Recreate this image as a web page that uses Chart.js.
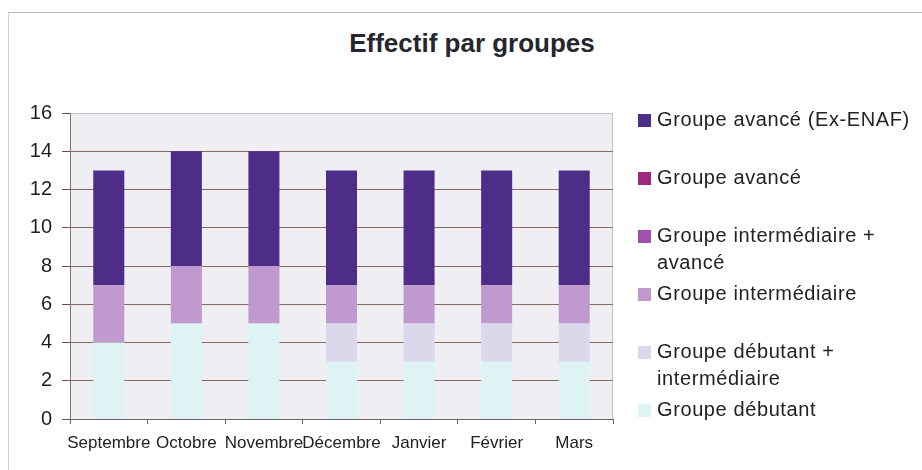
<!DOCTYPE html>
<html lang="fr">
<head>
<meta charset="utf-8">
<title>Effectif par groupes</title>
<script src="https://cdn.jsdelivr.net/npm/chart.js@4.4.1/dist/chart.umd.min.js"></script>
<style>
  html, body { margin: 0; padding: 0; background: #fff; }
  #wrap { position: relative; width: 922px; height: 470px; overflow: hidden; font-family: "Liberation Sans", Arial, sans-serif; color: #222; }
  #frame { position: absolute; left: 8px; top: 12px; right: -2px; bottom: -2px; border-top: 1px solid #c9b4b4; border-left: 1px solid #d2d2d6; }
  #title { position: absolute; left: 0; width: 944px; top: 28px; text-align: center; font-weight: bold; font-size: 26px; color: #26262e; }
  #chart { position: absolute; left: 0; top: 0; }
  #legend { position: absolute; left: 638px; top: 106px; }
  .item { display: flex; align-items: flex-start; height: 58px; }
  .sw { width: 13px; height: 13px; margin-top: 8px; margin-right: 6px; flex: none; }
  .lbl { font-size: 20px; line-height: 27px; white-space: pre-line; letter-spacing: 0.6px; }
</style>
</head>
<body>
<div id="wrap">
  <div id="frame"></div>
  <div id="title">Effectif par groupes</div>
  <canvas id="chart" width="922" height="470"></canvas>
  <div id="legend"></div>
</div>
<script>
/* données : empilement du bas vers le haut */
const MONTHS = ['Septembre', 'Octobre', 'Novembre', 'Décembre', 'Janvier', 'Février', 'Mars'];
const Y_TICKS = [0, 2, 4, 6, 8, 10, 12, 14, 16];

const debutant        = [4, 5, 5, 3, 3, 3, 3];
const debutantInter   = [0, 0, 0, 2, 2, 2, 2];
const intermediaire   = [3, 3, 3, 2, 2, 2, 2];
const interAvance     = [0, 0, 0, 0, 0, 0, 0];
const avance          = [0, 0, 0, 0, 0, 0, 0];
const avanceExEnaf    = [6, 6, 6, 6, 6, 6, 6];

const SERIES = [
  { label: 'Groupe débutant', data: debutant, color: '#def3f3' },
  { label: 'Groupe débutant +\nintermédiaire', data: debutantInter, color: '#dcd8ec' },
  { label: 'Groupe intermédiaire', data: intermediaire, color: '#c09ace' },
  { label: 'Groupe intermédiaire +\navancé', data: interAvance, color: '#a24fae' },
  { label: 'Groupe avancé', data: avance, color: '#a0287c' },
  { label: 'Groupe avancé (Ex-ENAF)', data: avanceExEnaf, color: '#4e2d88' },
];

/* fond gris et cadre de la zone de tracé */
const plotBg = {
  id: 'plotBg',
  beforeDraw(chart) {
    const { ctx, chartArea: a } = chart;
    ctx.save();
    ctx.fillStyle = '#efeff3';
    ctx.fillRect(a.left, a.top, a.right - a.left, a.bottom - a.top);
    ctx.strokeStyle = '#c2c2ca';
    ctx.lineWidth = 1;
    ctx.strokeRect(a.left + 0.5, a.top + 0.5, a.right - a.left - 1, a.bottom - a.top);
    ctx.restore();
  }
};

new Chart(document.getElementById('chart'), {
  type: 'bar',
  data: {
    labels: MONTHS,
    datasets: SERIES.map(s => ({
      label: s.label.replace('\n', ' '),
      data: s.data,
      backgroundColor: s.color,
      borderWidth: 0,
      barPercentage: 0.4,
      categoryPercentage: 1,
    }))
  },
  options: {
    responsive: false,
    animation: false,
    layout: { padding: { left: 10, right: 309, top: 113, bottom: 11 } },
    plugins: { legend: { display: false }, title: { display: false }, tooltip: { enabled: false } },
    scales: {
      x: {
        stacked: true,
        clip: false,
        afterFit: s => { s.height = 40; },
        grid: { drawOnChartArea: false, tickLength: 5, tickColor: '#666', offset: true },
        border: { color: '#666', width: 1 },
        ticks: { font: { family: '"Liberation Sans", Arial, sans-serif', size: 17 }, color: '#222', padding: 9, maxRotation: 0, autoSkip: false }
      },
      y: {
        stacked: true,
        min: 0, max: 16,
        afterFit: s => { s.width = 60; },
        afterBuildTicks: s => { s.ticks = Y_TICKS.map(v => ({ value: v })); },
        grid: {
          color: c => c.tick && c.tick.value === 16 ? '#c2c2ca' : '#8a6862',
          tickColor: '#555',
          tickLength: 8,
          lineWidth: 1
        },
        border: { color: '#777', width: 1 },
        ticks: { font: { family: '"Liberation Sans", Arial, sans-serif', size: 20 }, color: '#1e1e1e', padding: 10 }
      }
    }
  },
  plugins: [plotBg]
});

/* légende à droite, dans l'ordre inverse de l'empilement */
document.getElementById('legend').innerHTML = [...SERIES].reverse().map(s =>
  `<div class="item"><span class="sw" style="background:${s.color}"></span><span class="lbl">${s.label}</span></div>`
).join('');
</script>
</body>
</html>
